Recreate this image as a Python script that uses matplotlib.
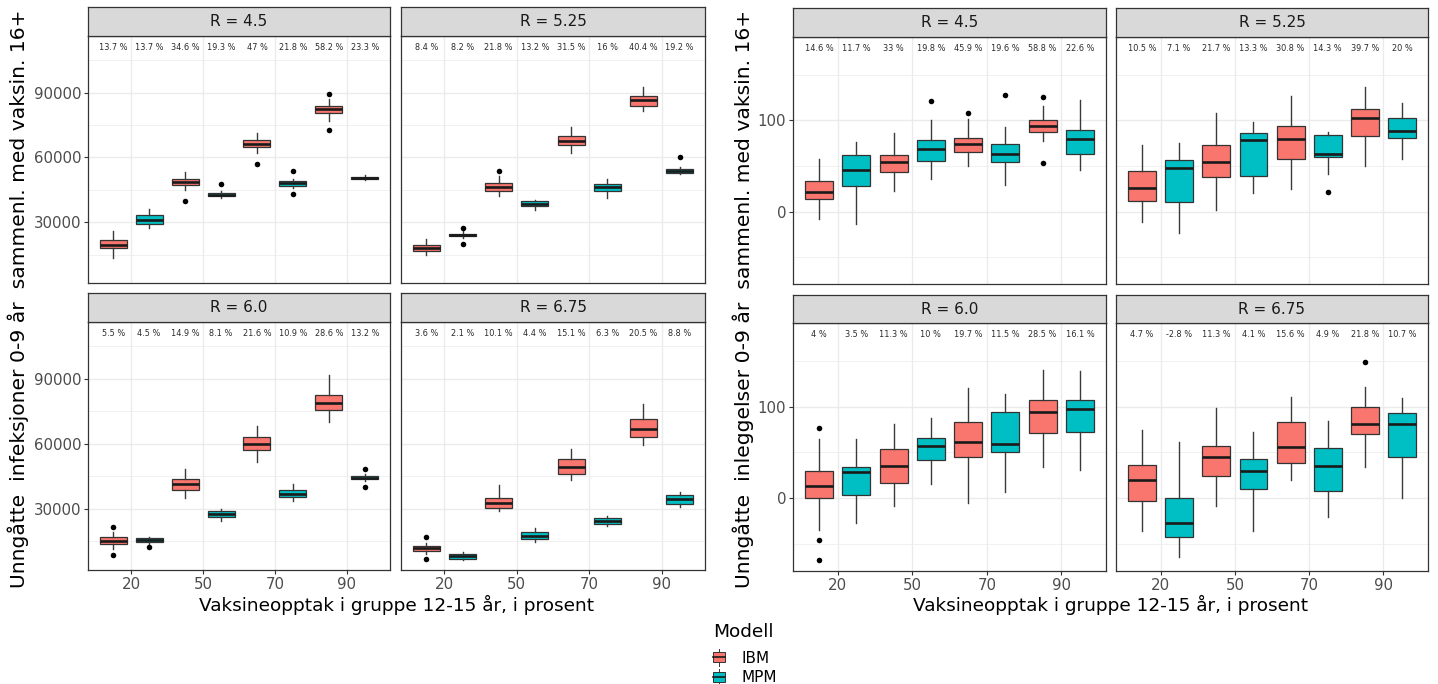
import matplotlib
matplotlib.use("Agg")
import matplotlib.pyplot as plt
from matplotlib.patches import Rectangle, Patch
from matplotlib.lines import Line2D
from matplotlib.legend_handler import HandlerBase

# ---------------- data ----------------
uptake = ["20", "50", "70", "90"]
models = ["IBM", "MPM"]
r_values = ["4.5", "5.25", "6.0", "6.75"]
# order within each R: IBM20, MPM20, IBM50, MPM50, IBM70, MPM70, IBM90, MPM90

# Unngåtte infeksjoner
inf_med = [
    [19500, 31100, 48800, 42700, 66400, 48100, 82300, 50300],
    [18100, 24000, 46400, 38400, 67800, 46100, 86400, 53900],
    [15300, 15600, 41300, 27700, 59900, 37000, 78800, 44400],
    [11900, 8200, 32800, 17600, 49400, 24300, 66800, 34400],
]
inf_q1 = [
    [17900, 29100, 47200, 41900, 64900, 46900, 80400, 49900],
    [16800, 23400, 44600, 37300, 65700, 44600, 83800, 52800],
    [13700, 14700, 38900, 26100, 57100, 35400, 75400, 43700],
    [10600, 7100, 30300, 16100, 46000, 23000, 63300, 32300],
]
inf_q3 = [
    [21500, 33400, 50200, 43500, 68000, 49200, 83800, 50800],
    [19500, 24600, 48200, 39600, 69900, 47700, 88500, 54800],
    [16800, 16500, 43700, 29200, 63000, 38500, 82400, 45200],
    [13000, 9400, 35100, 19200, 52800, 25700, 71400, 36200],
]
inf_lo = [
    [13300, 27200, 45000, 41200, 62100, 45800, 76800, 49300],
    [14800, 22600, 42300, 35400, 62100, 41300, 81500, 52300],
    [11400, 14000, 35100, 24600, 51700, 33600, 69900, 43000],
    [9400, 6300, 29200, 14500, 43500, 22300, 59500, 30800],
]
inf_hi = [
    [25700, 36000, 53100, 44500, 71100, 50200, 87200, 51600],
    [22100, 25700, 51300, 40400, 74200, 50200, 92800, 55400],
    [19200, 17000, 48600, 30000, 68300, 41300, 91600, 46000],
    [14100, 9900, 40900, 21200, 57500, 26500, 78500, 37800],
]
inf_out = [
    [[], [], [39900], [47700], [56700], [53600, 43000], [89500, 72600], []],
    [[], [27500, 19900], [53900], [], [], [], [], [60100]],
    [[21500, 8800], [12500], [], [], [], [], [], [48200, 40100]],
    [[16800, 7100], [], [], [], [], [], [], []],
]
inf_pct = [
    ["13.7 %", "13.7 %", "34.6 %", "19.3 %", "47 %", "21.8 %", "58.2 %", "23.3 %"],
    ["8.4 %", "8.2 %", "21.8 %", "13.2 %", "31.5 %", "16 %", "40.4 %", "19.2 %"],
    ["5.5 %", "4.5 %", "14.9 %", "8.1 %", "21.6 %", "10.9 %", "28.6 %", "13.2 %"],
    ["3.6 %", "2.1 %", "10.1 %", "4.4 %", "15.1 %", "6.3 %", "20.5 %", "8.8 %"],
]
inf_label_y = 111000

# Unngåtte innleggelser
adm_med = [
    [21.2, 45.8, 54.2, 68.9, 74.0, 63.0, 94.1, 79.5],
    [26.4, 47.6, 54.2, 78.0, 79.9, 63.4, 102.6, 87.9],
    [13.5, 28.4, 35.3, 57.5, 61.1, 59.3, 93.8, 97.1],
    [20.0, -26.5, 45.5, 30.2, 55.6, 35.3, 80.7, 80.7],
]
adm_q1 = [
    [13.9, 28.6, 43.2, 56.0, 65.2, 54.9, 86.8, 63.4],
    [11.7, 10.3, 37.4, 38.5, 57.5, 59.3, 83.2, 80.6],
    [0.0, 3.6, 16.4, 41.8, 45.5, 50.9, 71.6, 72.7],
    [-2.9, -41.8, 24.7, 10.2, 38.9, 8.4, 69.8, 44.7],
]
adm_q3 = [
    [33.0, 61.5, 61.5, 78.0, 80.6, 74.0, 100.0, 89.0],
    [44.0, 56.8, 73.3, 86.1, 94.1, 84.3, 112.5, 102.6],
    [30.2, 34.5, 53.8, 66.2, 82.9, 94.5, 107.3, 107.3],
    [36.4, 0.0, 57.1, 42.9, 82.9, 54.5, 100.0, 93.5],
]
adm_lo = [
    [-8.4, -13.6, 23.1, 35.9, 49.5, 29.3, 76.9, 45.8],
    [-11.0, -23.8, 1.8, 20.1, 24.9, 41.4, 50.5, 57.9],
    [-34.5, -27.3, -8.4, 15.6, -4.7, 7.3, 34.5, 30.9],
    [-35.3, -63.6, -8.0, -35.3, 20.0, -20.0, 34.5, 0.7],
]
adm_hi = [
    [57.5, 75.8, 86.1, 100.0, 101.5, 92.3, 116.1, 122.7],
    [72.5, 75.1, 108.1, 97.8, 126.4, 86.8, 136.6, 119.0],
    [64.4, 64.4, 81.1, 87.3, 120.0, 113.8, 140.0, 139.3],
    [74.5, 61.8, 98.2, 72.7, 110.9, 84.7, 121.8, 109.8],
]
adm_out = [
    [[], [], [], [121.6], [108.1], [128.2], [125.3, 53.1], []],
    [[], [], [], [], [], [22.0], [], []],
    [[76.4, -45.5, -67.3], [], [], [], [], [], [], []],
    [[], [], [], [], [], [], [149.1], []],
]
adm_pct = [
    ["14.6 %", "11.7 %", "33 %", "19.8 %", "45.9 %", "19.6 %", "58.8 %", "22.6 %"],
    ["10.5 %", "7.1 %", "21.7 %", "13.3 %", "30.8 %", "14.3 %", "39.7 %", "20 %"],
    ["4 %", "3.5 %", "11.3 %", "10 %", "19.7 %", "11.5 %", "28.5 %", "16.1 %"],
    ["4.7 %", "-2.8 %", "11.3 %", "4.1 %", "15.6 %", "4.9 %", "21.8 %", "10.7 %"],
]
adm_label_y = 179

# ---------------- style ----------------
W, H = 1438, 684
COLORS = {"IBM": "#F8766D", "MPM": "#00BFC4"}
DARK = "#333333"
GRID = "#EBEBEB"

fig = plt.figure(figsize=(W / 100, H / 100), dpi=100)


def rect(x0, y0, x1, y1):
    return [x0 / W, 1 - y1 / H, (x1 - x0) / W, (y1 - y0) / H]


def draw_group(xs, ys_panel, ys_strip, med, q1, q3, lo, hi, out, pct, label_y,
               ylim, yticks, yminor, ylabel, ylabel_x):
    for k in range(4):
        row, col = divmod(k, 2)
        x0, x1 = xs[col]
        y0, y1 = ys_panel[row]
        ax = fig.add_axes(rect(x0, y0, x1, y1))
        stats, pos, cols = [], [], []
        for i in range(8):
            g, m = divmod(i, 2)
            stats.append(dict(med=med[k][i], q1=q1[k][i], q3=q3[k][i],
                              whislo=lo[k][i], whishi=hi[k][i], fliers=out[k][i]))
            pos.append(g + (-0.25 if m == 0 else 0.25))
            cols.append(COLORS[models[m]])
        bp = ax.bxp(stats, positions=pos, widths=0.375, patch_artist=True,
                    showcaps=False, manage_ticks=False,
                    boxprops=dict(edgecolor=DARK, linewidth=0.9),
                    medianprops=dict(color="#1A1A1A", linewidth=1.9),
                    whiskerprops=dict(color="#3A3A3A", linewidth=1.0),
                    flierprops=dict(marker="o", markerfacecolor="black",
                                    markeredgecolor="none", markersize=4.0))
        for patch, c in zip(bp["boxes"], cols):
            patch.set_facecolor(c)
        for p, t in zip(pos, pct[k]):
            ax.text(p, label_y, t, ha="center", va="center", fontsize=5.9,
                    color="#2A2A2A")
        ax.set_xlim(-0.6, 3.6)
        ax.set_ylim(*ylim)
        ax.set_xticks(range(4))
        ax.set_yticks(yticks)
        ax.set_yticks(yminor, minor=True)
        ax.grid(True, which="major", color=GRID, linewidth=1.0)
        ax.grid(True, which="minor", axis="y", color=GRID, linewidth=0.5)
        ax.set_axisbelow(True)
        for s in ax.spines.values():
            s.set_color(DARK)
            s.set_linewidth(0.9)
        ax.tick_params(which="major", length=3, color=DARK, width=0.8,
                       labelsize=10.8, labelcolor="#4D4D4D", pad=2)
        ax.tick_params(which="minor", length=0)
        if row == 1:
            ax.set_xticklabels(uptake)
        else:
            ax.set_xticklabels([])
            ax.tick_params(axis="x", which="major", length=0)
        if col == 0:
            ax.set_yticklabels([str(v) for v in yticks])
        else:
            ax.set_yticklabels([])
            ax.tick_params(axis="y", which="major", length=0)
        # strip
        sy0, sy1 = ys_strip[row]
        sax = fig.add_axes(rect(x0, sy0, x1, sy1))
        sax.set_facecolor("#D9D9D9")
        sax.set_xticks([])
        sax.set_yticks([])
        for s in sax.spines.values():
            s.set_color(DARK)
            s.set_linewidth(0.9)
        sax.text(0.5, 0.5, f"R = {r_values[k]}", ha="center", va="center",
                 fontsize=11, color="#1A1A1A", transform=sax.transAxes)
    # axis titles
    fig.text(ylabel_x / W, 1 - 299 / H, ylabel,
             rotation=90, ha="center", va="center", fontsize=14.6, color="black")
    fig.text(((xs[0][0] + xs[1][1]) / 2) / W, 1 - 605 / H,
             "Vaksineopptak i gruppe 12-15 år, i prosent",
             ha="center", va="center", fontsize=13.3, color="black")


draw_group(xs=[(88, 390), (401, 705)],
           ys_panel=[(36, 283), (322, 570)],
           ys_strip=[(7, 36), (293, 322)],
           med=inf_med, q1=inf_q1, q3=inf_q3, lo=inf_lo, hi=inf_hi, out=inf_out,
           pct=inf_pct, label_y=inf_label_y,
           ylim=(1800, 116200), yticks=[30000, 60000, 90000],
           yminor=[15000, 45000, 75000, 105000],
           ylabel="Unngåtte  infeksjoner 0-9 år  sammenl. med vaksin. 16+",
           ylabel_x=18)

draw_group(xs=[(793, 1106), (1116, 1428)],
           ys_panel=[(37, 284), (323, 571)],
           ys_strip=[(8, 37), (295, 323)],
           med=adm_med, q1=adm_q1, q3=adm_q3, lo=adm_lo, hi=adm_hi, out=adm_out,
           pct=adm_pct, label_y=adm_label_y,
           ylim=(-79.3, 191.3), yticks=[0, 100],
           yminor=[-50, 50, 150],
           ylabel="Unngåtte  inleggelser 0-9 år  sammenl. med vaksin. 16+",
           ylabel_x=743)


# ---------------- legend ----------------
class BoxHandler(HandlerBase):
    def create_artists(self, legend, orig_handle, xdescent, ydescent, width,
                       height, fontsize, trans):
        fc = orig_handle.get_facecolor()
        x0, y0 = -xdescent, -ydescent
        cx = x0 + width / 2
        vline = Line2D([cx, cx], [y0 - height * 0.05, y0 + height * 1.05],
                       color=DARK, lw=0.7, transform=trans)
        r = Rectangle((x0, y0 + height * 0.18), width, height * 0.64,
                      facecolor=fc, edgecolor=DARK, lw=0.7, transform=trans)
        m = Line2D([x0, x0 + width], [y0 + height / 2] * 2, color="#1A1A1A",
                   lw=1.2, transform=trans)
        return [vline, r, m]


fig.text(713 / W, 1 - 632 / H, "Modell", ha="left", va="center",
         fontsize=13.3, color="black")
handles = [Patch(facecolor=COLORS[m]) for m in models]
fig.legend(handles, models, handler_map={Patch: BoxHandler()},
           loc="upper left", bbox_to_anchor=(711 / W, 1 - 648 / H),
           fontsize=11, frameon=False,
           handlelength=0.8, handleheight=1.2,
           handletextpad=1.1, labelspacing=0.25, borderaxespad=0, borderpad=0.1)

fig.savefig("out.png", dpi=100)
